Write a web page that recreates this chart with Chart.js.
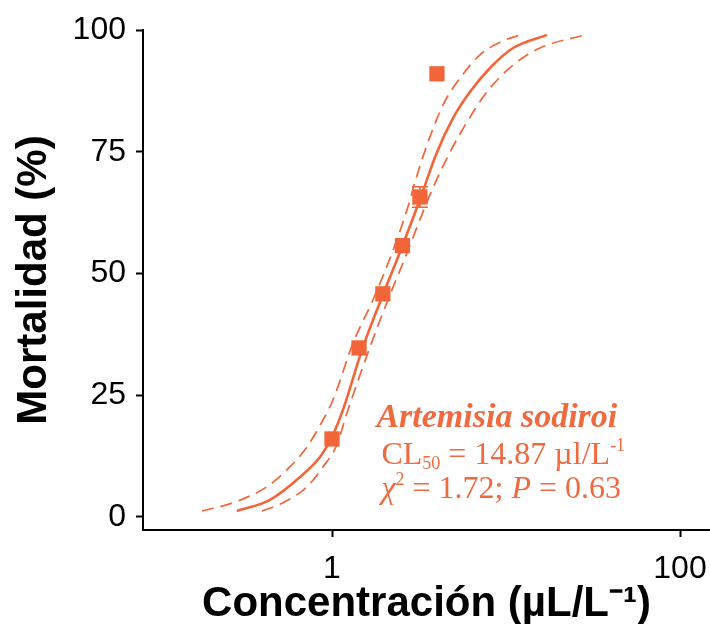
<!DOCTYPE html>
<html><head><meta charset="utf-8">
<script src="https://cdn.jsdelivr.net/npm/chart.js@4.4.1/dist/chart.umd.min.js"></script>
<style>html,body{margin:0;padding:0;background:#fff;overflow:hidden;}canvas{display:block;}</style>
</head><body><canvas id="c" width="710" height="624"></canvas>
<script>
// Observed mortality (squares)
const obsX = [1.00, 1.43, 1.96, 2.54, 3.20, 4.01];
const obsY = [16.0, 34.7, 45.8, 55.7, 65.7, 91.0];
const obsErr = [0, 0, 0, 0, 2.1, 0];
// Fitted curve (solid)
const fitX = [0.284, 0.440, 0.655, 0.853, 1.000, 1.172, 1.487, 1.912, 2.459, 3.121, 4.012, 4.960, 6.212, 8.091, 10.97, 17.20];
const fitY = [1.2, 3.5, 8.2, 12.3, 16.4, 22.6, 34.3, 44.6, 54.4, 64.1, 74.9, 81.9, 87.3, 92.2, 96.3, 99.0];
// Upper confidence band (dashed, left)
const upX = [0.179, 0.270, 0.423, 0.574, 0.719, 0.888, 1.013, 1.320, 1.720, 2.213, 2.734, 2.999, 3.516, 4.345, 5.439, 7.089, 9.237, 12.03];
const upY = [1.2, 2.9, 6.2, 10.3, 14.4, 19.9, 24.0, 35.7, 44.6, 54.2, 63.7, 68.8, 76.4, 84.6, 90.1, 94.9, 97.5, 99.0];
// Lower confidence band (dashed, right)
const loX = [0.396, 0.523, 0.719, 0.888, 1.054, 1.236, 1.654, 2.098, 2.698, 3.424, 3.806, 4.767, 5.970, 7.778, 10.97, 15.68, 28.45];
const loY = [1.2, 2.9, 6.2, 10.3, 14.4, 22.0, 34.9, 44.6, 54.2, 63.7, 67.6, 74.9, 81.1, 87.3, 92.8, 96.3, 99.0];
// Axis ticks
const xTickValues = [1, 100];
const yTickValues = [0, 25, 50, 75, 100];
// Annotation (anchored in data units)
const annotX = 1.80;
const annotY = [18.5, 10.9, 3.9];

const ORANGE = '#f26538';
const TEXT_ORANGE = '#f06a40';
const SANS = '"Liberation Sans", Arial, Helvetica, sans-serif';
const SERIF = '"Liberation Serif", "Times New Roman", serif';

const toPts = (xs, ys) => xs.map((x, i) => ({x: x, y: ys[i]}));

const errorBars = {
  id: 'errorBars',
  afterDatasetsDraw(chart) {
    const {ctx, scales: {x, y}} = chart;
    ctx.save();
    ctx.strokeStyle = ORANGE;
    ctx.lineWidth = 1.5;
    obsX.forEach((v, i) => {
      if (!obsErr[i]) return;
      const px = x.getPixelForValue(v);
      const y1 = y.getPixelForValue(obsY[i] + obsErr[i]);
      const y2 = y.getPixelForValue(obsY[i] - obsErr[i]);
      ctx.beginPath();
      ctx.moveTo(px, y1); ctx.lineTo(px, y2);
      ctx.moveTo(px - 8, y1); ctx.lineTo(px + 8, y1);
      ctx.moveTo(px - 8, y2); ctx.lineTo(px + 8, y2);
      ctx.stroke();
    });
    ctx.restore();
  }
};

const annotation = {
  id: 'annotation',
  afterDraw(chart) {
    const {ctx, scales: {x, y}} = chart;
    const x0 = x.getPixelForValue(annotX);
    const lines = [
      {indent: 0, segs: [{t: 'Artemisia sodiroi', f: 'bold italic 34px ' + SERIF, dy: 0}]},
      {indent: 5, segs: [{t: 'CL', f: '32px ' + SERIF, dy: 0}, {t: '50', f: '18px ' + SERIF, dy: 5},
       {t: ' = 14.87 \u00b5l/L', f: '32px ' + SERIF, dy: 0}, {t: '-1', f: '18px ' + SERIF, dy: -13}]},
      {indent: 5, segs: [{t: '\u03c7', f: 'italic 32px ' + SERIF, dy: 0}, {t: '2', f: '18px ' + SERIF, dy: -13},
       {t: ' = 1.72; ', f: '32px ' + SERIF, dy: 0}, {t: 'P', f: 'italic 32px ' + SERIF, dy: 0},
       {t: ' = 0.63', f: '32px ' + SERIF, dy: 0}]}
    ];
    ctx.save();
    ctx.fillStyle = TEXT_ORANGE;
    ctx.textBaseline = 'alphabetic';
    ctx.textAlign = 'left';
    lines.forEach((ln, li) => {
      let cx = x0 + ln.indent;
      const by = y.getPixelForValue(annotY[li]);
      ln.segs.forEach(s => {
        ctx.font = s.f;
        ctx.fillText(s.t, cx, by + s.dy);
        cx += ctx.measureText(s.t).width;
      });
    });
    ctx.restore();
  }
};

new Chart(document.getElementById('c'), {
  type: 'scatter',
  data: {
    datasets: [
      {label: 'Observado', data: toPts(obsX, obsY), backgroundColor: ORANGE, borderWidth: 0,
       pointStyle: 'rect', pointRadius: 10.8, showLine: false},
      {label: 'Ajuste', data: toPts(fitX, fitY), borderColor: ORANGE, borderWidth: 2.6,
       showLine: true, pointRadius: 0, cubicInterpolationMode: 'monotone', fill: false},
      {label: 'Superior', data: toPts(upX, upY), borderColor: ORANGE, borderWidth: 1.7, borderDash: [12, 7],
       showLine: true, pointRadius: 0, cubicInterpolationMode: 'monotone', fill: false},
      {label: 'Inferior', data: toPts(loX, loY), borderColor: ORANGE, borderWidth: 1.7, borderDash: [12, 7],
       showLine: true, pointRadius: 0, cubicInterpolationMode: 'monotone', fill: false}
    ]
  },
  options: {
    responsive: false, animation: false, devicePixelRatio: 1,
    layout: {autoPadding: false, padding: {top: 30, right: 0, bottom: 0, left: 0}},
    plugins: {legend: {display: false}, tooltip: {enabled: false}},
    scales: {
      x: {
        type: 'logarithmic', min: 0.082, max: 148.7,
        afterBuildTicks: s => { s.ticks = xTickValues.map(v => ({value: v})); },
        afterFit: s => { s.height = 94; s.paddingLeft = 0; s.paddingRight = 0; },
        grid: {display: true, drawOnChartArea: false, drawTicks: true, tickLength: 7, tickWidth: 2, tickColor: '#000'},
        border: {display: true, color: '#000', width: 2},
        ticks: {color: '#000', font: {family: SANS, size: 32, lineHeight: 1.8}, padding: 3, maxRotation: 0, autoSkip: false,
                callback: v => String(v)},
        title: {display: true, text: 'Concentración (µL/L⁻¹)', color: '#000',
                font: {family: SANS, size: 42, weight: 'bold'}, padding: {top: 0, bottom: -6}}
      },
      y: {
        type: 'linear', min: -2.7, max: 100,
        afterBuildTicks: s => { s.ticks = yTickValues.map(v => ({value: v})); },
        afterFit: s => { s.width = 143; },
        grid: {display: true, drawOnChartArea: false, drawTicks: true, tickLength: 7, tickWidth: 2, tickColor: '#000'},
        border: {display: true, color: '#000', width: 2},
        ticks: {color: '#000', font: {family: SANS, size: 32}, padding: 10, callback: v => String(v)},
        title: {display: true, text: 'Mortalidad (%)', color: '#000',
                font: {family: SANS, size: 42, weight: 'bold'}, padding: {top: 9, bottom: 0}}
      }
    }
  },
  plugins: [errorBars, annotation]
});
</script></body></html>
